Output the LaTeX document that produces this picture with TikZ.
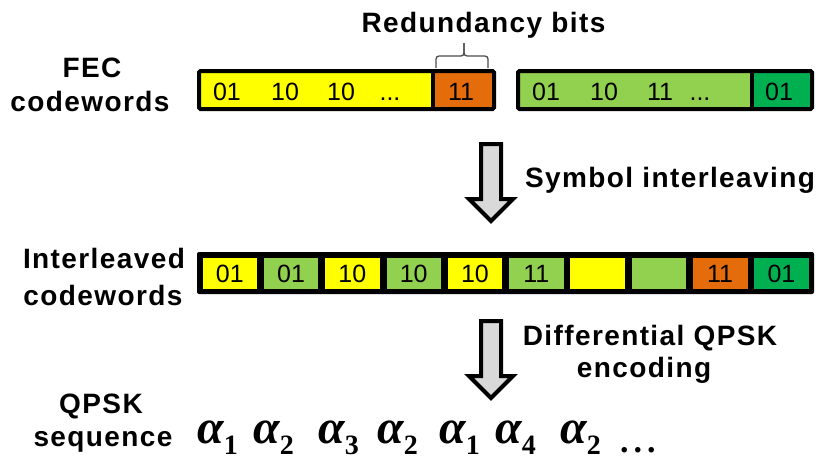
\documentclass[tikz,border=0pt]{standalone}
\usepackage{fontspec}
\setmainfont{Liberation Sans}
\newfontfamily\lblfont{Liberation Sans}[LetterSpace=5]
\newfontfamily\seqfont{Liberation Serif}

\definecolor{cellyellow}{HTML}{FFFF00}
\definecolor{cellorange}{HTML}{E46C0A}
\definecolor{cellgreen}{HTML}{92D050}
\definecolor{celldkgreen}{HTML}{00B050}
\definecolor{arrowgray}{HTML}{D9D9D9}

\tikzset{
  heading/.style={inner sep=0pt, anchor=base, font=\lblfont\bfseries\fontsize{28}{32}\selectfont},
  bits/.style={inner sep=0pt, anchor=base, font=\fontsize{25}{30}\selectfont},
  barframe/.style={draw=black, line width=4pt, rounded corners=1.5pt},
  divider/.style={draw=black, line width=4pt},
  cellbox/.style={draw=black, line width=0.8pt},
  procarrow/.style={draw=black, line width=4pt, fill=arrowgray, line join=miter},
  bracepen/.style={draw=black!70, line width=1.3pt, rounded corners=3pt},
  symb/.style={inner sep=0pt, anchor=base west, font=\seqfont\bfseries\itshape\fontsize{48}{50}\selectfont},
  pics/downarrow/.style={code={
    \draw[procarrow] (-10,0) -- (10,0) -- (10,55) -- (22,55) -- (0,77)
                     -- (-22,55) -- (-10,55) -- cycle;}},
}
\newcommand{\symsub}[1]{\raisebox{-11pt}{\upshape\fontsize{28}{30}\selectfont #1}}

\begin{document}
\begin{tikzpicture}[x=1pt, y=-1pt]
\useasboundingbox (0,0) rectangle (821,461);

% ---- FEC codewords ----
\node[heading] (fec) at (92,77) {FEC};
\node[heading] (fecwords) at (90,111) {codewords};

% first codeword: data + redundancy
\fill[cellyellow] (199,71) rectangle (433,109);
\fill[cellorange] (433,71) rectangle (494,109);
\draw[divider] (433,71) -- (433,109);
\draw[barframe] (199,71) rectangle (494,109);
\node[bits] (a1) at (227,100) {01};
\node[bits] (a2) at (285,100) {10};
\node[bits] (a3) at (341,100) {10};
\node[bits] (a4) at (390,100) {...};
\node[bits] (a5) at (461,100) {11};

% second codeword
\fill[cellgreen] (518,71) rectangle (751.5,109);
\fill[celldkgreen] (751.5,71) rectangle (812,109);
\draw[divider] (751.5,71) -- (751.5,109);
\draw[barframe] (518,71) rectangle (812,109);
\node[bits] (b1) at (546,100) {01};
\node[bits] (b2) at (604,100) {10};
\node[bits] (b3) at (660,100) {11};
\node[bits] (b4) at (700,100) {...};
\node[bits] (b5) at (779,100) {01};

% redundancy brace and caption
\draw[bracepen] (436,68) -- (436,56) -- (464,56) -- (464,43);
\draw[bracepen] (488,68) -- (488,56) -- (464,56) -- (464,43);
\node[heading] (redund) at (483.5,32) {Redundancy bits};

% ---- interleaving step ----
\pic at (491,144) {downarrow};
\node[heading] (interl) at (670,187) {Symbol interleaving};

% ---- interleaved codewords ----
\node[heading] (ilv) at (104,268) {Interleaved};
\node[heading] (ilvwords) at (103,305) {codewords};
\fill[black, rounded corners=2pt] (197,252) rectangle (814,294);
\foreach \i/\c/\t in {0/cellyellow/01, 1/cellgreen/01, 2/cellyellow/10,
                      3/cellgreen/10, 4/cellyellow/10, 5/cellgreen/11,
                      6/cellyellow/, 7/cellgreen/, 8/cellorange/11, 9/celldkgreen/01}{
  \pgfmathsetmacro\xl{202+61.3*\i}
  \draw[cellbox, fill=\c] (\xl,257) rectangle ++(55.5,32);
  \node[bits] (il\i) at (\xl+27.75,282) {\t};
}

% ---- differential encoding step ----
\pic at (491,321) {downarrow};
\node[heading] (diff) at (650,345) {Differential QPSK};
\node[heading] (enc) at (644,377) {encoding};

% ---- QPSK symbol sequence ----
\node[heading] (qpsk) at (101,413) {QPSK};
\node[heading] (seq) at (103,446) {sequence};
\node[symb] (s1) at (197,443) {α\symsub{1}};
\node[symb] (s2) at (253,443) {α\symsub{2}};
\node[symb] (s3) at (318,443) {α\symsub{3}};
\node[symb] (s4) at (377,443) {α\symsub{2}};
\node[symb] (s5) at (439,443) {α\symsub{1}};
\node[symb] (s6) at (495,443) {α\symsub{4}};
\node[symb] (s7) at (560,443) {α\symsub{2}};
\node[symb, font=\seqfont\bfseries\fontsize{34}{36}\selectfont] (s8) at (620,452) {.\kern5pt.\kern5pt.};
\end{tikzpicture}
\end{document}
